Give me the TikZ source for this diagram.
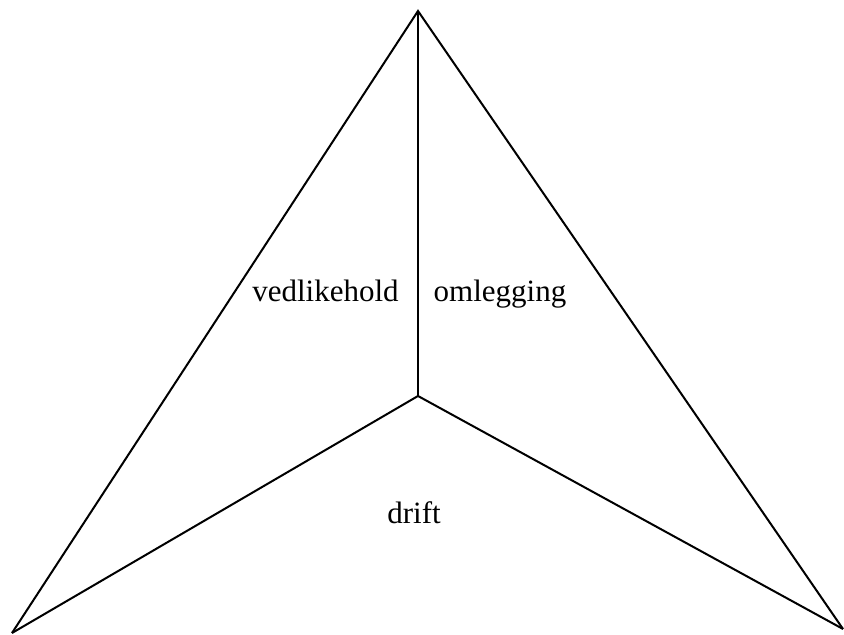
\documentclass[tikz,border=0pt]{standalone}
\usepackage{fontspec}
\setmainfont{Liberation Serif}
\begin{document}
\begin{tikzpicture}[x=0.5pt,y=-0.5pt,
  edge/.style={draw=black,line width=1pt,line join=miter},
  label/.style={anchor=base,inner sep=0pt,font=\fontsize{15.5pt}{18pt}\selectfont}]
\useasboundingbox (0,0) rectangle (844,635);
% corner points of the star-shaped triangle
\coordinate (top) at (418,11);
\coordinate (mid) at (418,396);
\coordinate (bl) at (12,633);
\coordinate (br) at (843,629);
% outer sides and inner spokes
\draw[edge] (bl) -- (top) -- (br);
\draw[edge] (top) -- (mid);
\draw[edge] (bl) -- (mid) -- (br);
% region labels
\node[label] (vedl) at (325.5,302) {vedlikehold};
\node[label] (oml) at (500,302) {omlegging};
\node[label] (drift) at (414,523) {drift};
\end{tikzpicture}
\end{document}
